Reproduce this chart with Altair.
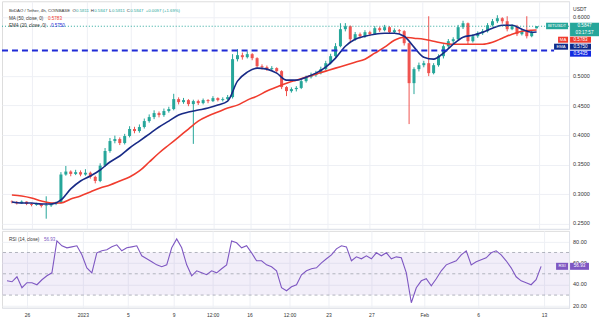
import altair as alt
import pandas as pd

# ---------------- data ----------------
closes = [
    0.2864, 0.2840, 0.2870, 0.2830, 0.2815, 0.2835, 0.2795, 0.2805, 0.2830, 0.2850,
    0.3330, 0.3380, 0.3340, 0.3370, 0.3330, 0.3360, 0.3290, 0.3220, 0.3480, 0.3729,
    0.3898, 0.3932, 0.3864, 0.3983, 0.4102, 0.4068, 0.4136, 0.4237, 0.4305, 0.4373,
    0.4339, 0.4407, 0.4441, 0.4610, 0.4559, 0.4593, 0.4525, 0.4576, 0.4542, 0.4593,
    0.4576, 0.4627, 0.4593, 0.4610, 0.4644, 0.5288, 0.5356, 0.5322, 0.5373, 0.5305,
    0.5169, 0.5153, 0.5119, 0.5136, 0.5085, 0.4814, 0.4746, 0.4780, 0.4800, 0.4915,
    0.4983, 0.5017, 0.5051, 0.5119, 0.5220, 0.5339, 0.5508, 0.5797, 0.5847, 0.5627,
    0.5712, 0.5678, 0.5746, 0.5712, 0.5814, 0.5780, 0.5831, 0.5746, 0.5780, 0.5763,
    0.5559, 0.4881, 0.5119, 0.5186, 0.5220, 0.5051, 0.5186, 0.5339, 0.5508, 0.5593,
    0.5627, 0.5831, 0.5898, 0.5593, 0.5678, 0.5729, 0.5763, 0.5864, 0.5932, 0.5983,
    0.5932, 0.5797, 0.5847, 0.5712, 0.5763, 0.5678, 0.5750, 0.5847,
]
highs = [
    0.2890, 0.2880, 0.2890, 0.2875, 0.2845, 0.2850, 0.2840, 0.2960, 0.2850, 0.2870,
    0.3370, 0.3475, 0.3400, 0.3410, 0.3400, 0.3420, 0.3380, 0.3310, 0.3520, 0.3780,
    0.3950, 0.3990, 0.3960, 0.4020, 0.4150, 0.4140, 0.4180, 0.4280, 0.4350, 0.4420,
    0.4400, 0.4450, 0.4480, 0.4700, 0.4640, 0.4630, 0.4610, 0.4600, 0.4600, 0.4620,
    0.4610, 0.4660, 0.4640, 0.4640, 0.4680, 0.5373, 0.5458, 0.5400, 0.5420, 0.5390,
    0.5320, 0.5200, 0.5180, 0.5170, 0.5150, 0.5100, 0.4830, 0.4810, 0.4830, 0.4950,
    0.5010, 0.5060, 0.5090, 0.5160, 0.5260, 0.5380, 0.5560, 0.5898, 0.5900, 0.5860,
    0.5750, 0.5740, 0.5780, 0.5770, 0.5850, 0.5840, 0.5870, 0.5850, 0.5810, 0.5800,
    0.5780, 0.5570, 0.5150, 0.5230, 0.5260, 0.6017, 0.5220, 0.5370, 0.5540, 0.5630,
    0.5660, 0.5870, 0.5940, 0.5910, 0.5710, 0.5760, 0.5800, 0.5900, 0.5970, 0.6034,
    0.6000, 0.6017, 0.5880, 0.5870, 0.5800, 0.6017, 0.5780, 0.5847,
]
lows = [
    0.2840, 0.2820, 0.2830, 0.2810, 0.2790, 0.2800, 0.2770, 0.2580, 0.2780, 0.2810,
    0.2840, 0.3310, 0.3300, 0.3320, 0.3300, 0.3310, 0.3260, 0.3180, 0.3200, 0.3460,
    0.3700, 0.3860, 0.3830, 0.3840, 0.3960, 0.4030, 0.4040, 0.4110, 0.4210, 0.4270,
    0.4300, 0.4310, 0.4380, 0.4420, 0.4520, 0.4530, 0.4490, 0.3850, 0.4510, 0.4520,
    0.4540, 0.4560, 0.4570, 0.4570, 0.4590, 0.4620, 0.5250, 0.5280, 0.5300, 0.5270,
    0.5140, 0.5110, 0.5090, 0.5100, 0.5060, 0.4780, 0.4661, 0.4720, 0.4740, 0.4780,
    0.4890, 0.4960, 0.4990, 0.5030, 0.5100, 0.5200, 0.5310, 0.5490, 0.5760, 0.5559,
    0.5600, 0.5640, 0.5650, 0.5680, 0.5700, 0.5750, 0.5760, 0.5720, 0.5730, 0.5720,
    0.5520, 0.4186, 0.4695, 0.5080, 0.5150, 0.5000, 0.5030, 0.5160, 0.5300, 0.5480,
    0.5560, 0.5600, 0.5800, 0.5542, 0.5570, 0.5650, 0.5700, 0.5740, 0.5840, 0.5900,
    0.5890, 0.5760, 0.5780, 0.5680, 0.5690, 0.5640, 0.5660, 0.5811,
]
FIRST_OPEN = 0.2870
LAST_OPEN = 0.5811

# moving averages, read at every second candle plus the last one
line_idx = list(range(0, 108, 2)) + [107]
ema_vals = [
    0.2864, 0.2847, 0.2847, 0.2830, 0.2830, 0.2898, 0.3085, 0.3220, 0.3305, 0.3407,
    0.3542, 0.3644, 0.3780, 0.3898, 0.4017, 0.4136, 0.4237, 0.4339, 0.4390, 0.4424,
    0.4458, 0.4508, 0.4576, 0.4915, 0.5068, 0.5136, 0.5119, 0.5051, 0.4932, 0.4932,
    0.4983, 0.5051, 0.5153, 0.5305, 0.5508, 0.5627, 0.5678, 0.5712, 0.5729, 0.5729,
    0.5678, 0.5492, 0.5322, 0.5288, 0.5390, 0.5542, 0.5661, 0.5695, 0.5746, 0.5814,
    0.5864, 0.5864, 0.5797, 0.5746, 0.5750,
]
ma_vals = [
    0.2983, 0.2966, 0.2932, 0.2881, 0.2847, 0.2847, 0.2915, 0.2966, 0.3034, 0.3102,
    0.3153, 0.3220, 0.3288, 0.3390, 0.3542, 0.3695, 0.3831, 0.3966, 0.4102, 0.4237,
    0.4322, 0.4390, 0.4458, 0.4508, 0.4593, 0.4661, 0.4746, 0.4814, 0.4881, 0.4932,
    0.4983, 0.5034, 0.5085, 0.5136, 0.5186, 0.5237, 0.5288, 0.5390, 0.5492, 0.5610,
    0.5661, 0.5644, 0.5627, 0.5593, 0.5559, 0.5542, 0.5542, 0.5542, 0.5542, 0.5576,
    0.5644, 0.5712, 0.5763, 0.5780, 0.5783,
]
rsi_vals = [
    43.4, 42.5, 47.2, 36.9, 41.6, 41.6, 39.7, 44.4, 48.1, 50.9,
    80.9, 76.3, 74.4, 75.3, 76.3, 67.8, 55.6, 50.9, 69.7, 71.6,
    72.5, 75.3, 77.2, 71.6, 74.4, 75.3, 76.3, 66.9, 64.1, 61.3,
    58.4, 56.6, 58.4, 74.4, 82.8, 74.4, 58.4, 48.1, 52.8, 50.9,
    49.1, 52.8, 50.9, 54.7, 58.4, 80.9, 79.1, 74.4, 76.3, 69.7,
    62.2, 62.2, 58.4, 56.6, 52.8, 36.9, 34.1, 37.8, 39.7, 49.1,
    52.8, 54.7, 55.6, 60.3, 64.1, 67.8, 73.4, 76.3, 75.3, 62.2,
    65.9, 64.1, 66.9, 64.1, 69.7, 66.9, 69.7, 64.1, 65.9, 65.0,
    50.9, 22.8, 36.9, 43.4, 45.3, 38.8, 45.3, 52.8, 58.4, 60.3,
    62.2, 67.8, 71.6, 58.4, 61.3, 63.1, 65.0, 69.7, 71.6, 67.8,
    62.2, 55.6, 47.2, 43.4, 41.6, 39.7, 44.4, 56.93,
]
SUPPORT = 0.5435

tick_pos = [4, 15.2, 24.2, 33.4, 41.2, 48.6, 56.6, 64.4, 73, 83.6, 94.4, 107.6]
tick_labels = ["26", "2023", "5", "9", "12:00", "16", "12:00", "23", "27", "Feb", "6", "13"]
price_ticks = [0.60, 0.50, 0.45, 0.40, 0.35, 0.30, 0.25]
rsi_ticks = [80, 60, 40, 20]

# ---------------- tables ----------------
n = len(closes)
opens = [FIRST_OPEN] + closes[:-1]
opens[-1] = LAST_OPEN
candles = pd.DataFrame({"i": list(range(n)), "open": opens, "high": highs,
                        "low": lows, "close": closes})
candles["dir"] = ["up" if c >= o else "down" for o, c in zip(opens, closes)]
lines = pd.DataFrame({"i": line_idx, "ema": ema_vals, "ma": ma_vals})
rsi = pd.DataFrame({"i": list(range(n)), "rsi": rsi_vals})
pticks = pd.DataFrame({"v": price_ticks})
rticks = pd.DataFrame({"v": rsi_ticks})
ONE = pd.DataFrame({"a": [0]})

# ---------------- style ----------------
FONT = "Liberation Sans"
UP, DOWN = "#26a69a", "#ef5350"
NAVY, MARED, BLUE, PURPLE = "#182a86", "#f03c2e", "#1f2bd6", "#7e57c2"
GRID, BORDER, TXT = "#eef0f5", "#e0e3eb", "#333333"
W = 568

xs = alt.Scale(domain=[-1, 112.6], nice=False, zero=False)
ys = alt.Scale(domain=[0.2407, 0.6271], nice=False, zero=False)
rs = alt.Scale(domain=[18.1, 90.3], nice=False, zero=False)

XA_top = alt.Axis(values=tick_pos, labels=False, ticks=False, domain=True,
                  domainColor=BORDER, grid=True, gridColor=GRID, title=None,
                  minExtent=0, maxExtent=0)
YA_top = alt.Axis(orient="right", values=price_ticks, labels=False, ticks=False,
                  domain=True, domainColor=BORDER, grid=True, gridColor=GRID, title=None,
                  minExtent=0, maxExtent=0)

expr = "".join(f"datum.value === {p} ? '{l}' : " for p, l in zip(tick_pos, tick_labels)) + "''"
XA_bot = alt.Axis(values=tick_pos, labelExpr=expr, ticks=False, domain=True,
                  domainColor=BORDER, grid=True, gridColor=GRID, title=None,
                  labelOverlap=False,
                  labelFontSize=5, labelFont=FONT, labelColor=TXT, labelPadding=5)
YA_bot = alt.Axis(orient="right", values=rsi_ticks, labels=False, ticks=False,
                  domain=True, domainColor=BORDER, grid=True, gridColor=GRID, title=None,
                  minExtent=0, maxExtent=0)

color_dir = alt.Color("dir:N", scale=alt.Scale(domain=["up", "down"], range=[UP, DOWN]),
                      legend=None)


def txt(s, x, y, color, size=4.6, align="left", weight="normal"):
    return alt.Chart(ONE).mark_text(text=s, align=align, baseline="middle", fontSize=size,
                                    font=FONT, color=color, fontWeight=weight).encode(
        x=alt.value(x), y=alt.value(y))


def box(x1, x2, y1, y2, color):
    return alt.Chart(ONE).mark_rect(color=color).encode(
        x=alt.value(x1), x2=alt.value(x2), y=alt.value(y1), y2=alt.value(y2))


# ---------------- price pane ----------------
wicks = alt.Chart(candles).mark_rule(strokeWidth=1).encode(
    x=alt.X("i:Q", scale=xs, axis=XA_top),
    y=alt.Y("low:Q", scale=ys, axis=YA_top),
    y2="high:Q", color=color_dir)
bodies = alt.Chart(candles).mark_bar(size=3).encode(
    x=alt.X("i:Q", scale=xs, axis=XA_top),
    y=alt.Y("open:Q", scale=ys, axis=YA_top),
    y2="close:Q", color=color_dir)
ma_line = alt.Chart(lines).mark_line(color=MARED, strokeWidth=1.6, interpolate="monotone").encode(
    x=alt.X("i:Q", scale=xs, axis=XA_top), y=alt.Y("ma:Q", scale=ys, axis=YA_top))
ema_line = alt.Chart(lines).mark_line(color=NAVY, strokeWidth=1.6, interpolate="monotone").encode(
    x=alt.X("i:Q", scale=xs, axis=XA_top), y=alt.Y("ema:Q", scale=ys, axis=YA_top))
support = alt.Chart(ONE).mark_rule(color=BLUE, strokeWidth=2, strokeDash=[6, 4]).encode(
    y=alt.Y(datum=SUPPORT, scale=ys, axis=YA_top), x=alt.value(0), x2=alt.value(553))
last_line = alt.Chart(ONE).mark_rule(color=UP, strokeWidth=1, strokeDash=[1, 2]).encode(
    y=alt.Y(datum=closes[-1], scale=ys, axis=YA_top))
price_labels = alt.Chart(pticks).mark_text(align="left", baseline="middle", fontSize=5.5,
                                           font=FONT, color=TXT).encode(
    y=alt.Y("v:Q", scale=ys, axis=YA_top), x=alt.value(572),
    text=alt.Text("v:Q", format=".4f"))

chg = closes[-1] - closes[-2]
pct = chg / closes[-2] * 100
H1 = 4.3
hdr = [
    txt("BitDAO / Tether, 4h, COINBASE", 7, 10, TXT, H1),
    txt("O", 70.5, 10, TXT, H1), txt(f"{LAST_OPEN:.4f}", 74.2, 10, UP, H1),
    txt("H", 89, 10, TXT, H1), txt(f"{highs[-1]:.4f}", 92.4, 10, UP, H1),
    txt("L", 107.5, 10, TXT, H1), txt(f"{lows[-1]:.4f}", 110.2, 10, UP, H1),
    txt("C", 125, 10, TXT, H1), txt(f"{closes[-1]:.4f}", 128.4, 10, UP, H1),
    txt(f"+{chg:.4f} (+{pct:.2f}%)", 144, 10, UP, H1),
    txt("MA (50, close, 0)", 7, 17.5, TXT), txt(f"{ma_vals[-1]:.4f}", 46, 17.5, MARED),
    txt("EMA (20, close, 0)", 7, 24.5, TXT), txt(f"{ema_vals[-1]:.4f}", 49, 24.5, BLUE),
    txt("USDT", 572, 8, TXT, size=5),
]
tags = [
    box(545, 567, 21.5, 28, UP), txt("BITUSDT", 556, 24.8, "white", 4.3, "center"),
    box(569, 598, 21.5, 35, UP), txt(f"{closes[-1]:.4f}", 583.5, 25, "white", 4.6, "center"),
    txt("03:17:57", 583.5, 31.5, "white", 4.6, "center"),
    box(557, 567, 35.5, 41.5, MARED), txt("MA", 562, 38.6, "white", 4.3, "center"),
    box(569, 590, 35.5, 41.5, MARED), txt(f"{ma_vals[-1]:.4f}", 579.5, 38.6, "white", 4.6, "center"),
    box(553, 567, 42.5, 48.5, "#0f2a8a"), txt("EMA", 560, 45.6, "white", 4.3, "center"),
    box(569, 590, 42.5, 48.5, "#0f2a8a"), txt(f"{ema_vals[-1]:.4f}", 579.5, 45.6, "white", 4.6, "center"),
    box(569, 590, 49.5, 55.5, "#1229e0"), txt(f"{SUPPORT:.4f}", 579.5, 52.6, "white", 4.6, "center"),
]

top = alt.layer(wicks, bodies, ma_line, ema_line, support, last_line, price_labels,
                *hdr, *tags).properties(width=W, height=228)

# ---------------- RSI pane ----------------
band = alt.Chart(ONE).mark_rect(color=PURPLE, opacity=0.1).encode(
    y=alt.Y(datum=70, scale=rs, axis=YA_bot), y2=alt.datum(30),
    x=alt.value(0), x2=alt.value(W))
guides = [alt.Chart(ONE).mark_rule(color="#a0a3ad", strokeWidth=0.8, strokeDash=[3, 3]).encode(
    y=alt.Y(datum=v, scale=rs, axis=YA_bot)) for v in (70, 50, 30)]
rsi_line = alt.Chart(rsi).mark_line(color=PURPLE, strokeWidth=1.1).encode(
    x=alt.X("i:Q", scale=xs, axis=XA_bot), y=alt.Y("rsi:Q", scale=rs, axis=YA_bot))
rsi_labels = alt.Chart(rticks).mark_text(align="left", baseline="middle", fontSize=5.5,
                                         font=FONT, color=TXT).encode(
    y=alt.Y("v:Q", scale=rs, axis=YA_bot), x=alt.value(572),
    text=alt.Text("v:Q", format=".2f"))
rsi_txt = [
    txt("RSI (14, close)", 7, 9.5, TXT), txt(f"{rsi_vals[-1]:.2f}", 42, 9.5, PURPLE),
    box(555, 567, 32, 39, PURPLE), txt("RSI", 561, 35.6, "white", 4.3, "center"),
    box(569, 588, 32, 39, PURPLE), txt(f"{rsi_vals[-1]:.2f}", 578.5, 35.6, "white", 4.6, "center"),
]
bot = alt.layer(band, *guides, rsi_line, rsi_labels, *rsi_txt).properties(width=W, height=77)

chart = (alt.vconcat(top, bot, spacing=0, padding=0)
         .configure_view(stroke=None)
         .configure(background="white"))

chart.save("out.html", embed_options={"renderer": "svg", "actions": False})
